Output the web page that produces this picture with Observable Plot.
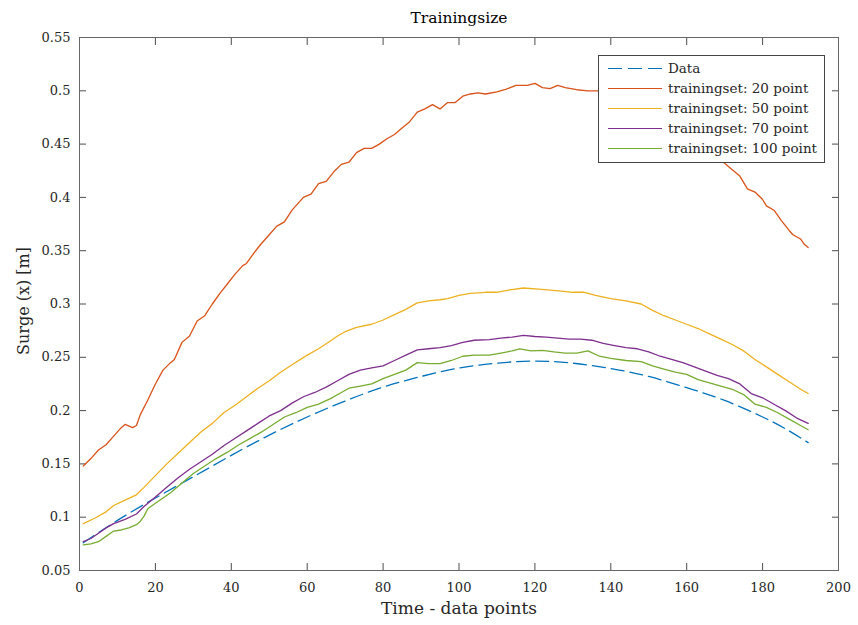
<!DOCTYPE html>
<html>
<head>
<meta charset="utf-8">
<script src="https://cdn.jsdelivr.net/npm/d3@7"></script>
<script src="https://cdn.jsdelivr.net/npm/@observablehq/plot@0.6"></script>
<style>
  html, body { margin: 0; padding: 0; background: #fff; }
  #wrap { position: relative; width: 858px; height: 625px; font-family: "DejaVu Serif", "Liberation Serif", serif; }
  #legend { position: absolute; left: 598px; top: 55px; width: 227px; height: 108px; border: 1.3px solid #444; background: #fff; box-sizing: border-box; }
  .row { position: absolute; left: 0; height: 20px; width: 100%; }
  .sample { position: absolute; left: 9px; width: 54px; top: 10px; height: 0; }
  .lab { position: absolute; left: 69px; top: 0; line-height: 20px; font-size: 13.5px; color: #262626; white-space: nowrap; font-family: "DejaVu Serif", "Liberation Serif", serif; }
</style>
</head>
<body>
<div id="wrap"></div>
<script>
// ---- values ----
const title = "Trainingsize";
const xLabel = "Time - data points";
const yLabel = "Surge (x) [m]";
const xTicks = [0, 20, 40, 60, 80, 100, 120, 140, 160, 180, 200];
const yTicks = [0.05, 0.1, 0.15, 0.2, 0.25, 0.3, 0.35, 0.4, 0.45, 0.5, 0.55];
const seriesNames = ["Data", "trainingset: 20 point", "trainingset: 50 point", "trainingset: 70 point", "trainingset: 100 point"];
const seriesColors = ["#0072BD", "#D95319", "#EDB120", "#7E2F8E", "#77AC30"];

const dataX = [1, 10, 20, 30, 40, 50, 60, 70, 80, 90, 100, 110, 120, 130, 140, 150, 160, 170, 180, 186, 192];
const dataY = [0.076, 0.097, 0.118, 0.138, 0.158, 0.177, 0.194, 0.209, 0.222, 0.232, 0.240, 0.2445, 0.2465, 0.2445, 0.2395, 0.232, 0.2215, 0.2095, 0.194, 0.183, 0.170];

const ts20X = [1, 3, 5, 7, 9, 11, 12, 14, 15, 16, 18, 20, 22, 24, 25, 27, 29, 31, 33, 35, 37, 39, 41, 43, 44, 46, 48, 50, 52, 54, 56, 59, 61, 63, 65, 67, 69, 71, 73, 75, 77, 79, 81, 83, 85, 87, 89, 91, 93, 95, 97, 99, 101, 103, 105, 107, 110, 112, 115, 118, 120, 122, 124, 126, 128, 131, 134, 137, 140, 145, 150, 155, 160, 165, 170, 172, 174, 176, 178, 180, 181, 183, 185, 187, 188, 190, 191, 192];
const ts20Y = [0.148, 0.155, 0.163, 0.168, 0.176, 0.184, 0.187, 0.184, 0.186, 0.196, 0.210, 0.225, 0.238, 0.245, 0.248, 0.264, 0.270, 0.284, 0.289, 0.300, 0.310, 0.319, 0.328, 0.336, 0.338, 0.348, 0.357, 0.365, 0.373, 0.377, 0.388, 0.400, 0.403, 0.413, 0.415, 0.424, 0.431, 0.433, 0.442, 0.446, 0.446, 0.450, 0.455, 0.459, 0.465, 0.471, 0.480, 0.483, 0.487, 0.483, 0.489, 0.489, 0.495, 0.497, 0.498, 0.497, 0.499, 0.501, 0.505, 0.505, 0.507, 0.503, 0.502, 0.505, 0.503, 0.501, 0.500, 0.500, 0.497, 0.492, 0.484, 0.475, 0.462, 0.448, 0.432, 0.426, 0.420, 0.408, 0.405, 0.398, 0.392, 0.388, 0.378, 0.369, 0.365, 0.361, 0.356, 0.353];

const ts50X = [1, 4, 7, 9, 12, 15, 17, 20, 23, 26, 29, 32, 35, 38, 41, 44, 47, 50, 53, 56, 60, 63, 66, 68, 70, 73, 77, 80, 83, 86, 89, 92, 95, 97, 100, 103, 107, 110, 113, 117, 121, 124, 127, 130, 133, 136, 140, 144, 148, 151, 154, 157, 160, 163, 166, 169, 172, 175, 178, 181, 184, 187, 190, 192];
const ts50Y = [0.094, 0.099, 0.105, 0.111, 0.116, 0.121, 0.128, 0.139, 0.150, 0.160, 0.170, 0.180, 0.188, 0.198, 0.205, 0.213, 0.221, 0.228, 0.236, 0.243, 0.252, 0.258, 0.265, 0.270, 0.274, 0.278, 0.281, 0.285, 0.290, 0.295, 0.301, 0.303, 0.304, 0.305, 0.308, 0.310, 0.311, 0.311, 0.313, 0.315, 0.314, 0.313, 0.312, 0.311, 0.311, 0.308, 0.305, 0.303, 0.300, 0.294, 0.289, 0.285, 0.281, 0.277, 0.272, 0.267, 0.262, 0.256, 0.248, 0.241, 0.234, 0.227, 0.220, 0.216];

const ts70X = [1, 3, 5, 7, 9, 12, 15, 17, 20, 23, 26, 29, 32, 35, 38, 41, 44, 47, 50, 53, 56, 59, 62, 65, 68, 71, 74, 77, 80, 83, 86, 89, 92, 95, 98, 101, 104, 108, 111, 114, 117, 120, 123, 126, 129, 132, 135, 138, 141, 144, 147, 150, 153, 156, 159, 162, 165, 168, 171, 174, 177, 180, 183, 186, 189, 192];
const ts70Y = [0.077, 0.080, 0.085, 0.090, 0.094, 0.098, 0.103, 0.110, 0.119, 0.128, 0.137, 0.145, 0.152, 0.159, 0.167, 0.174, 0.181, 0.188, 0.195, 0.200, 0.207, 0.213, 0.217, 0.222, 0.228, 0.234, 0.238, 0.240, 0.242, 0.247, 0.252, 0.257, 0.258, 0.259, 0.261, 0.264, 0.266, 0.2665, 0.268, 0.269, 0.2705, 0.2695, 0.269, 0.268, 0.267, 0.267, 0.266, 0.263, 0.261, 0.259, 0.258, 0.255, 0.251, 0.248, 0.245, 0.241, 0.237, 0.233, 0.230, 0.225, 0.216, 0.212, 0.206, 0.200, 0.193, 0.188];

const ts100X = [1, 3, 5, 7, 9, 11, 13, 15, 16, 17, 18, 20, 22, 24, 27, 30, 33, 36, 39, 42, 45, 48, 51, 54, 57, 60, 63, 66, 69, 71, 74, 77, 80, 83, 86, 89, 92, 95, 98, 101, 104, 108, 111, 114, 116, 119, 122, 125, 128, 131, 134, 137, 140, 144, 148, 151, 154, 157, 160, 163, 166, 169, 172, 175, 178, 181, 184, 187, 190, 192];
const ts100Y = [0.074, 0.075, 0.077, 0.082, 0.087, 0.088, 0.090, 0.093, 0.096, 0.101, 0.108, 0.113, 0.118, 0.123, 0.132, 0.141, 0.148, 0.155, 0.161, 0.168, 0.174, 0.180, 0.187, 0.194, 0.198, 0.203, 0.206, 0.211, 0.217, 0.221, 0.223, 0.225, 0.230, 0.234, 0.238, 0.245, 0.244, 0.244, 0.247, 0.251, 0.252, 0.252, 0.254, 0.256, 0.258, 0.256, 0.2565, 0.255, 0.254, 0.254, 0.256, 0.251, 0.249, 0.247, 0.246, 0.242, 0.239, 0.236, 0.234, 0.229, 0.226, 0.223, 0.220, 0.215, 0.206, 0.203, 0.198, 0.192, 0.186, 0.182];

// ---- build tables ----
const zip = (xs, ys) => xs.map((x, i) => ({x, y: ys[i]}));
const rows = [zip(dataX, dataY), zip(ts20X, ts20Y), zip(ts50X, ts50Y), zip(ts70X, ts70Y), zip(ts100X, ts100Y)];

const font = '"DejaVu Serif", "Liberation Serif", serif';
const chart = Plot.plot({
  width: 858,
  height: 625,
  marginLeft: 79,
  marginRight: 20,
  marginTop: 37,
  marginBottom: 55,
  x: {domain: [0, 200]},
  y: {domain: [0.05, 0.55]},
  style: {fontFamily: font, fontSize: "13px", color: "#262626", background: "#fff", overflow: "visible"},
  marks: [
    Plot.axisX(xTicks, {anchor: "bottom", tickSize: 0, tickPadding: 12, label: null, tickFormat: d => String(d), fontSize: 13}),
    Plot.axisY(yTicks, {anchor: "left", tickSize: 0, tickPadding: 9, label: null, tickFormat: d => String(+d.toFixed(2)), fontSize: 13}),
    Plot.axisX(xTicks, {anchor: "bottom", tickSize: -7, tickFormat: () => "", label: null, stroke: "#4d4d4d"}),
    Plot.axisX(xTicks, {anchor: "top", tickSize: -7, tickFormat: () => "", label: null, stroke: "#4d4d4d"}),
    Plot.axisY(yTicks, {anchor: "left", tickSize: -7, tickFormat: () => "", label: null, stroke: "#4d4d4d"}),
    Plot.axisY(yTicks, {anchor: "right", tickSize: -7, tickFormat: () => "", label: null, stroke: "#4d4d4d"}),
    Plot.line(rows[0], {x: "x", y: "y", stroke: seriesColors[0], strokeWidth: 1.3, strokeDasharray: "13,6", curve: "natural"}),
    ...[1, 2, 3, 4].map(k => Plot.line(rows[k], {x: "x", y: "y", stroke: seriesColors[k], strokeWidth: 1.3, curve: "linear"})),
    Plot.frame({stroke: "#666", strokeWidth: 1}),
    Plot.text([title], {frameAnchor: "top", lineAnchor: "middle", dy: -19, fontSize: 15.5, fill: "#000"}),
    Plot.text([yLabel], {frameAnchor: "left", textAnchor: "middle", lineAnchor: "middle", dx: -56, dy: -3, rotate: -90, fontSize: 16, fill: "#262626"}),
    Plot.text([xLabel], {frameAnchor: "bottom", lineAnchor: "middle", dy: 38, fontSize: 17, fill: "#262626"})
  ]
});
const wrap = document.getElementById("wrap");
wrap.appendChild(chart);

// ---- legend ----
const legend = document.createElement("div");
legend.id = "legend";
seriesNames.forEach((name, i) => {
  const row = document.createElement("div");
  row.className = "row";
  row.style.top = (2 + i * 20) + "px";
  const s = document.createElement("div");
  s.className = "sample";
  if (i === 0) {
    s.style.height = "1.4px";
    s.style.background = `repeating-linear-gradient(to right, ${seriesColors[i]} 0 14px, transparent 14px 20px)`;
  } else {
    s.style.borderTop = `1.4px solid ${seriesColors[i]}`;
  }
  const t = document.createElement("div");
  t.className = "lab";
  t.textContent = name;
  row.appendChild(s);
  row.appendChild(t);
  legend.appendChild(row);
});
wrap.appendChild(legend);
</script>
</body>
</html>
